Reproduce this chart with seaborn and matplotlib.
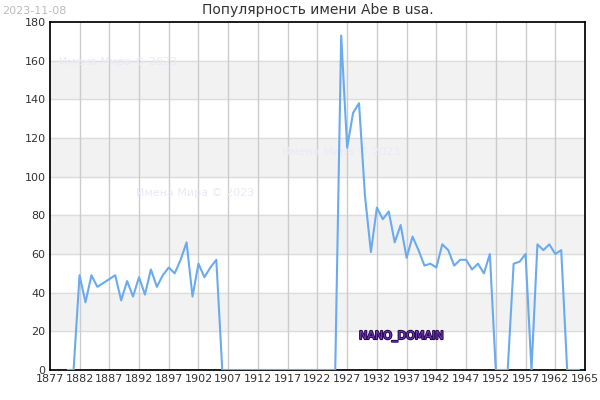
import matplotlib
matplotlib.use("Agg")
import matplotlib.pyplot as plt
import matplotlib.patheffects as pe
import seaborn as sns

years = list(range(1880, 1967))
values = [0, 0, 49, 35, 49, 43, 45, 47, 49, 36, 46, 38, 48, 39, 52, 43, 49, 53, 50, 57,
          66, 38, 55, 48, 53, 57] + [0] * 20 + \
         [173, 115, 133, 138, 90, 61, 84, 78, 82, 66, 75, 58, 69, 62, 54, 55, 53, 65, 62,
          54, 57, 57, 52, 55, 50, 60, 0, 0, 0, 55, 56, 60, 0, 65, 62, 65, 60, 62, 0, 0, 0]
xticks = list(range(1877, 1963, 5))
xlabels = [str(t) for t in xticks] + ["1965"]

sns.set_theme(style="white")
fig, ax = plt.subplots(figsize=(6, 4), dpi=100)
fig.subplots_adjust(left=0.083, right=0.975, top=0.945, bottom=0.075)

for lo in range(20, 180, 40):
    ax.axhspan(lo, lo + 20, color="#f2f2f2", zorder=0)
for y in range(20, 180, 20):
    ax.axhline(y, color="#dddddd", lw=1, zorder=0.5)
for x in xticks[1:]:
    ax.axvline(x, color="#cccccc", lw=1, zorder=0.5)

sns.lineplot(x=years, y=values, ax=ax, color="#6aaaf0", lw=1.5, zorder=3)

ax.set_xlim(1877, 1967)
ax.set_ylim(0, 180)
ax.set_xticks(xticks + [1967])
ax.set_xticklabels(xlabels)
ax.set_yticks(range(0, 181, 20))
ax.tick_params(labelsize=8, colors="#333333", length=0, pad=3)
for s in ax.spines.values():
    s.set_color("black")
ax.set_title("Популярность имени Abe в usa.", fontsize=10, color="#333333")

wm = dict(color="#eaeaf8", fontsize=8, zorder=1)
ax.text(1878.5, 158, "Имена Мира © 2023", **wm)
ax.text(1891.5, 90, "Имена Мира © 2023", **wm)
ax.text(1916, 111, "Имена Мира © 2023", **wm)
ax.text(1929, 16, "NANO_DOMAIN", fontsize=8, color="#6a3ab0", zorder=4,
        path_effects=[pe.withStroke(linewidth=1.5, foreground="#2a0a50")])
fig.text(0.003, 0.985, "2023-11-08", fontsize=8, color="#bbbbbb", va="top")

fig.savefig("out.png", dpi=100)
